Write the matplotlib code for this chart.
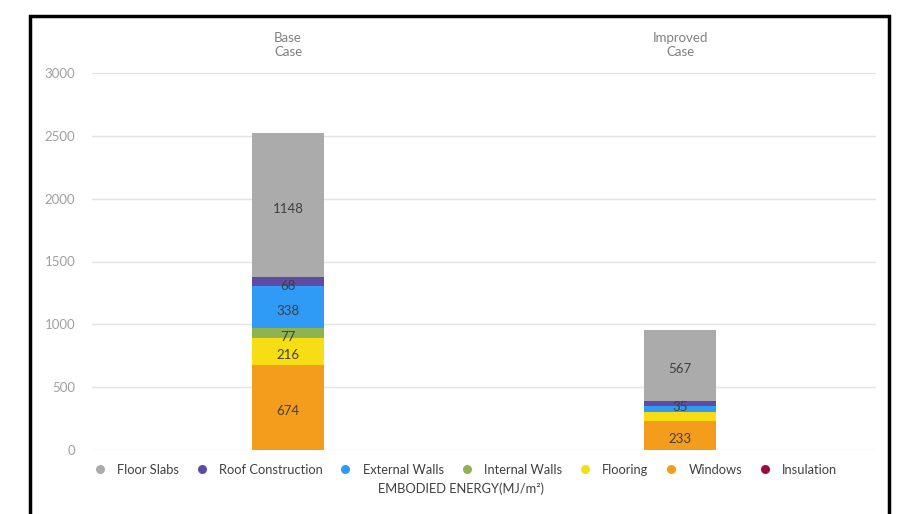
import matplotlib
matplotlib.use("Agg")
import matplotlib.pyplot as plt
from matplotlib.patches import Rectangle
from matplotlib.lines import Line2D

plt.rcParams['font.family'] = ['Lato', 'DejaVu Sans']

cases = ["Base\nCase", "Improved\nCase"]
components = ["Floor Slabs", "Roof Construction", "External Walls", "Internal Walls",
              "Flooring", "Windows", "Insulation"]
# stacking order bottom -> top
windows = [674, 233]
flooring = [216, 70]
internal_walls = [77, 0]
external_walls = [338, 50]
roof = [68, 35]
floor_slabs = [1148, 567]
insulation = [0, 0]

labels_shown = {
    "Windows": [True, True],
    "Flooring": [True, False],
    "Internal Walls": [True, False],
    "External Walls": [True, False],
    "Roof Construction": [True, True],
    "Floor Slabs": [True, True],
    "Insulation": [False, False],
}

colors = {
    "Floor Slabs": "#ABABAB",
    "Roof Construction": "#5E4BA6",
    "External Walls": "#2F9BF7",
    "Internal Walls": "#8FB350",
    "Flooring": "#F7DE14",
    "Windows": "#F49C1C",
    "Insulation": "#9C0B3B",
}

stack = [("Windows", windows), ("Flooring", flooring), ("Internal Walls", internal_walls),
         ("External Walls", external_walls), ("Roof Construction", roof),
         ("Floor Slabs", floor_slabs), ("Insulation", insulation)]

fig = plt.figure(figsize=(9.05, 5.14), dpi=100)
ax = fig.add_axes([92/905, 1-450/514, (876-92)/905, (450-73)/514])

x = [0, 1]
bottoms = [0, 0]
for name, vals in stack:
    ax.bar(x, vals, bottom=bottoms, width=0.184, color=colors[name], edgecolor='none', zorder=3)
    for i, v in enumerate(vals):
        if v > 0 and labels_shown[name][i]:
            ax.text(x[i], bottoms[i] + v/2 - 30, f"{v}", ha='center', va='center',
                    fontsize=9.5, color='#404040', zorder=4)
    bottoms = [b + v for b, v in zip(bottoms, vals)]

ax.set_xlim(-0.5, 1.5)
ax.set_ylim(0, 3000)
ax.set_yticks(range(0, 3001, 500))
ax.yaxis.grid(True, color='#E3E3E3', linewidth=1, zorder=0)
ax.tick_params(axis='y', length=0, labelsize=9.5, labelcolor='#A0A0A0', pad=12)
ax.set_xticks(x)
ax.set_xticklabels(cases)
ax.xaxis.tick_top()
ax.tick_params(axis='x', length=0, labelsize=9.5, labelcolor='#808080', pad=11)
for s in ax.spines.values():
    s.set_visible(False)

handles = [Line2D([], [], marker='o', linestyle='none', markersize=6.5,
                  markerfacecolor=colors[c], markeredgecolor='none') for c in components]
fig.legend(handles, components, loc='center', bbox_to_anchor=(462/905, 1-470/514), ncol=7,
           frameon=False, fontsize=9.3, handletextpad=0.35, columnspacing=0.75,
           labelcolor='#404040')
fig.text(461/905, 1-489/514, "EMBODIED ENERGY(MJ/m²)", ha='center', va='center',
         fontsize=9.3, color='#404040')

fig.patches.append(Rectangle((30/905, -0.1), (889-30)/905, 1.1 - 16/514,
                             transform=fig.transFigure, fill=False, edgecolor='black',
                             linewidth=2.5, zorder=10))

fig.savefig("out.png", dpi=100)
